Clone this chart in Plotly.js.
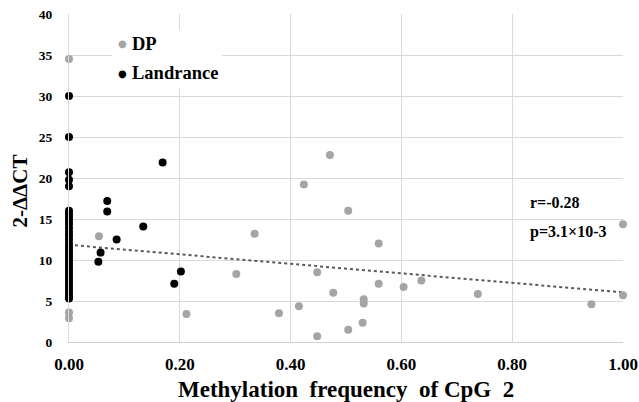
<!DOCTYPE html>
<html>
<head>
<meta charset="utf-8">
<script src="https://cdn.plot.ly/plotly-3.0.1.min.js"></script>
<style>html,body{margin:0;padding:0;background:#fff;}#chart{width:639px;height:402px;}</style>
</head>
<body>
<div id="chart"></div>
<script>
// DP samples
const dpX = [0, 0, 0, 0.054, 0.212, 0.302, 0.335, 0.379, 0.415, 0.424, 0.448, 0.448, 0.471, 0.477, 0.504, 0.504, 0.530, 0.532, 0.532, 0.559, 0.559, 0.604, 0.636, 0.738, 0.943, 1.0, 1.0];
const dpY = [34.5, 3.6, 2.9, 12.9, 3.4, 8.3, 13.2, 3.5, 4.35, 19.2, 8.5, 0.7, 22.8, 6.0, 16.0, 1.5, 2.35, 5.2, 4.7, 12.0, 7.1, 6.7, 7.5, 5.85, 4.6, 14.35, 5.7];
// Landrance samples
const lrX = [0, 0, 0, 0, 0, 0, 0, 0, 0, 0, 0, 0, 0, 0, 0, 0, 0, 0, 0, 0, 0, 0, 0, 0, 0, 0, 0, 0, 0, 0, 0, 0,
             0.053, 0.057, 0.069, 0.069, 0.086, 0.134, 0.169, 0.19, 0.202];
const lrY = [30.0, 25.0, 20.7, 19.8, 19.0, 16.0, 15.6, 15.2, 14.8, 14.4, 13.9, 13.4, 13.0, 12.5, 12.0, 11.6, 11.2, 10.8, 10.4, 10.0, 9.6, 9.2, 8.8, 8.4, 8.0, 7.6, 7.2, 6.8, 6.4, 6.0, 5.6, 5.3,
             9.8, 10.9, 17.2, 15.9, 12.5, 14.1, 21.9, 7.1, 8.6];
// linear trend line endpoints
const trendX = [0, 1];
const trendY = [11.85, 6.05];
const xTicks = [0, 0.2, 0.4, 0.6, 0.8, 1.0];
const xTickText = ['0.00', '0.20', '0.40', '0.60', '0.80', '1.00'];
const yTicks = [0, 5, 10, 15, 20, 25, 30, 35, 40];
const seriesNames = ['DP', 'Landrance'];
const seriesColors = ['#a5a5a5', '#000000'];

const serif = 'Liberation Serif, Times New Roman, serif';
const W = 639, H = 402;
const M = {l: 68.5, r: 15.5, t: 14, b: 60};
const PW = W - M.l - M.r, PH = H - M.t - M.b;
// pixel position -> plot-area paper fraction (for layout-only items)
const px = (v) => (v - M.l) / PW, py = (v) => (H - M.b - v) / PH;

const traces = [
  {x: trendX, y: trendY, mode: 'lines', line: {color: '#595959', width: 2, dash: 'dot'}, showlegend: false, hoverinfo: 'skip'},
  {x: dpX, y: dpY, mode: 'markers', name: seriesNames[0], marker: {color: seriesColors[0], size: 8}, cliponaxis: false},
  {x: lrX, y: lrY, mode: 'markers', name: seriesNames[1], marker: {color: seriesColors[1], size: 8}, cliponaxis: false}
];

const bold = (size) => ({family: serif, size: size, color: '#000', weight: 'bold'});

const annotations = [
  {x: 0.828, y: 17.0, xref: 'x', yref: 'y', text: 'r=-0.28', showarrow: false, xanchor: 'left', font: bold(16)},
  {x: 0.828, y: 13.4, xref: 'x', yref: 'y', text: 'p=3.1×10-3', showarrow: false, xanchor: 'left', font: bold(16)},
  {x: 0.5, y: py(390), xref: 'paper', yref: 'paper', text: 'Methylation\u00a0 frequency\u00a0 of CpG\u00a0 2',
   showarrow: false, xanchor: 'center', yanchor: 'middle', font: bold(23)},
  {x: px(19), y: py(191), xref: 'paper', yref: 'paper', text: '2-ΔΔCT', textangle: -90,
   showarrow: false, xanchor: 'center', yanchor: 'middle', font: bold(21)}
];
// legend (drawn as text so the symbol/label gap matches)
const legY = [43.5, 73];
seriesNames.forEach((n, i) => {
  annotations.push({x: px(122), y: py(legY[i]), xref: 'paper', yref: 'paper', text: '●', showarrow: false,
    xanchor: 'center', yanchor: 'middle', font: {family: 'DejaVu Sans', size: 10, color: seriesColors[i]}});
  annotations.push({x: px(130), y: py(legY[i]), xref: 'paper', yref: 'paper', text: n, showarrow: false,
    xanchor: 'left', yanchor: 'middle', font: bold(18.5)});
});

const layout = {
  width: W, height: H,
  margin: M,
  paper_bgcolor: '#fff', plot_bgcolor: '#fff',
  showlegend: false,
  shapes: [
    {type: 'rect', xref: 'paper', yref: 'paper', x0: px(112), x1: px(222), y0: py(88), y1: py(30),
     fillcolor: '#fff', line: {width: 0}, layer: 'above'}
  ],
  xaxis: {range: [0, 1], tickvals: xTicks, ticktext: xTickText, showgrid: true, gridcolor: '#d9d9d9', gridwidth: 1,
          showline: true, linecolor: '#d0d0d0', linewidth: 1, zeroline: false, ticks: '',
          tickfont: bold(17), ticklabelstandoff: 7},
  yaxis: {range: [0, 40], tickvals: yTicks, showgrid: true, gridcolor: '#d9d9d9', gridwidth: 1,
          showline: true, linecolor: '#d9d9d9', linewidth: 1, zeroline: false, ticks: '',
          tickfont: bold(13.5), ticklabelstandoff: 13},
  annotations: annotations
};

Plotly.newPlot('chart', traces, layout, {displayModeBar: false, staticPlot: true});
</script>
</body>
</html>
